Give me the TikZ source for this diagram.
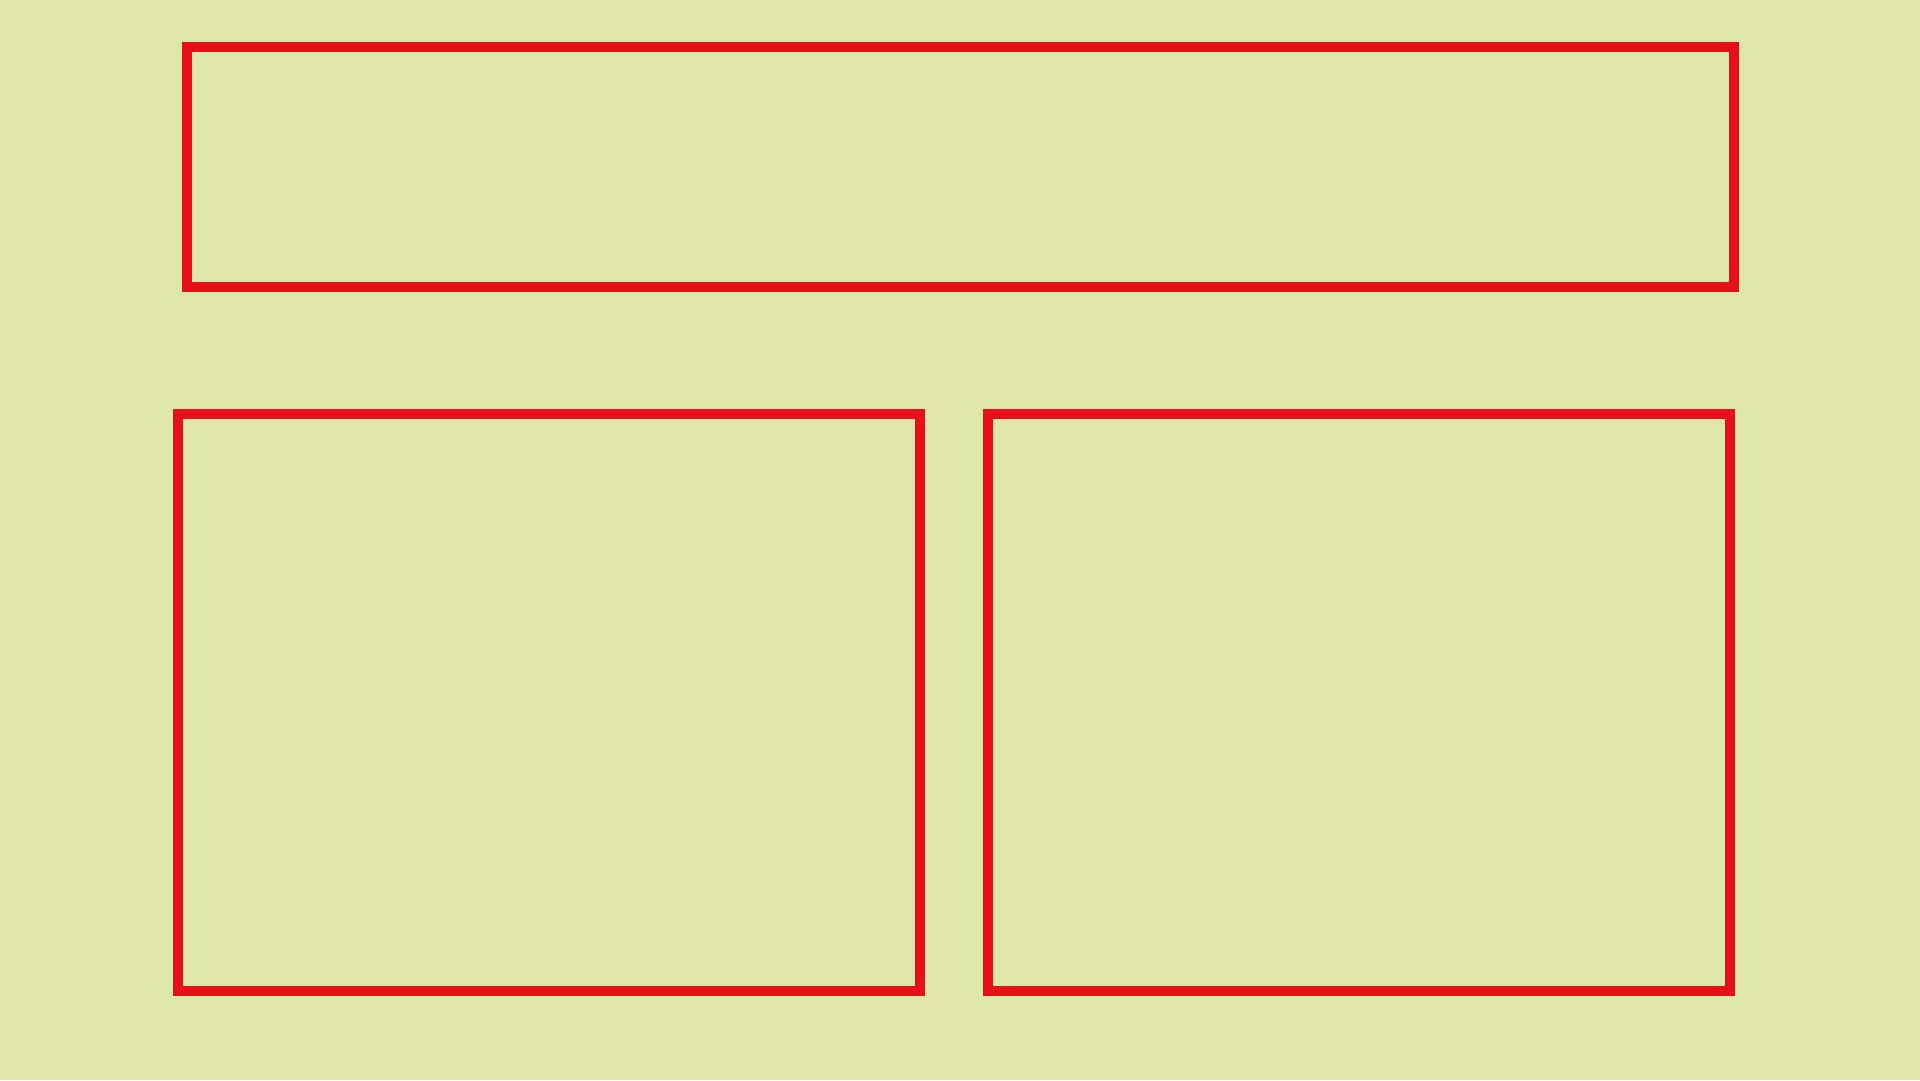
\documentclass[tikz,border=0pt]{standalone}
\definecolor{bgpaper}{RGB}{222,230,168}
\definecolor{framered}{RGB}{232,16,24}
\tikzset{
  panel/.style={draw=framered, line width=10pt, inner sep=0pt, outer sep=0pt, fill=none, shape=rectangle}
}
\begin{document}
\begin{tikzpicture}[x=1pt,y=-1pt]
\fill[bgpaper] (0,0) rectangle (1920,1080);
\useasboundingbox (0,0) rectangle (1920,1080);
\node[panel, minimum width=1547pt, minimum height=240pt] (top) at (960.5,167) {};
\node[panel, minimum width=742pt, minimum height=577pt] (left) at (549,702.5) {};
\node[panel, minimum width=742pt, minimum height=577pt] (right) at (1359,702.5) {};
\end{tikzpicture}
\end{document}
